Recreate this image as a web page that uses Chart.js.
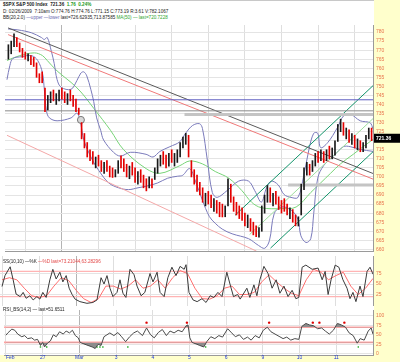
<!DOCTYPE html>
<html>
<head>
<meta charset="utf-8">
<script src="https://cdn.jsdelivr.net/npm/chart.js@4.4.1/dist/chart.umd.min.js"></script>
<style>
  html, body { margin: 0; padding: 0; width: 400px; height: 362px; overflow: hidden; background: #ffffcc; font-family: "Liberation Sans", Arial, sans-serif; }
  #frame { position: absolute; left: 0; top: 0; width: 374px; height: 355px; background: #fff; border-top: 1px solid #c8c8c8; box-sizing: border-box; }
  canvas { position: absolute; left: 0; }
  .t { position: absolute; left: 3px; font-size: 4.6px; line-height: 5px; white-space: nowrap; color: #222; }
</style>
</head>
<body>
<div id="frame"></div>
<div class="t" style="top:1.5px"><b>$SPX S&amp;P 500 Index</b> &nbsp;<b>721.36</b> &nbsp;<b style="color:#1a9a1a">1.76 &nbsp;0.24%</b></div>
<div class="t" style="top:9px">D: 02/26/2009 &nbsp;7:10am O:774.76 H:774.76 L:771.15 C:773.19 R:3.61 V:782.1067</div>
<div class="t" style="top:14.5px">BB(20,2.0) <span style="color:#6a6ab0">—upper —lower</span> last=726.62935,713.87585 <span style="color:#2fa52f">MA(50) — last=720.7228</span></div>
<canvas id="cMain" width="400" height="236" style="top:20px"></canvas>
<canvas id="cStoch" width="400" height="50" style="top:256px"></canvas>
<canvas id="cRsi" width="400" height="56" style="top:306px"></canvas>
<div class="t" style="top:259px">SS(10,10) —%K <span style="color:#e24848">—%D last=73.21044,63.28296</span></div>
<div class="t" style="top:307px">RSI_BS(14,2) — last=51.6511</div>
<script>
// trading days on the x axis (x = day number, one unit per session)
const dayLabels = ['Feb', '27', 'Mar', '3', '4', '5', '6', '9', '10', '11'];
const dayStarts = [0, 1, 2, 3, 4, 5, 6, 7, 8, 9];
const barsPerDay = 13;

// half-hour bars
const priceHigh = [
  773, 775, 779, 777, 774, 771, 769, 768, 767, 766, 763, 757, 758,
  749, 745, 747, 748, 746, 748, 749, 747, 746, 748, 745, 743, 738,
  730, 724, 719, 715, 714, 711, 712, 709, 708, 709, 706, 705, 704,
  709, 711.7, 710, 707, 706, 708, 705, 703, 704, 701, 699, 700, 699,
  705, 710, 712, 714, 712, 713, 715, 713, 715, 719, 722, 724.1, 723,
  709, 704, 701, 697, 694, 691, 692, 690, 688, 687, 686, 685, 684,
  699, 696, 689, 686, 684, 683, 680, 679, 677, 675, 673, 672, 684,
  690, 695.3, 694, 691, 692, 689, 687, 688, 685, 683, 682, 679, 678,
  696, 705, 708, 707, 709, 713, 714, 715, 714, 715, 717, 716, 720,
  729, 731.9, 730, 727, 726, 724, 723, 721, 720, 719, 723, 727, 727
];
const priceLow = [
  765, 768, 772, 772, 769, 766, 765, 764, 762, 761, 755, 752, 752,
  736, 737, 741, 742, 740, 742, 743, 741, 740, 742, 739, 736, 734.5,
  721, 716, 711, 709, 707, 705, 706, 703, 702, 703, 700, 699.7, 700,
  702, 705, 703, 700, 699, 701, 697, 696, 697, 694, 692.3, 694, 694,
  698.6, 702, 706, 707, 705, 706, 708, 706, 708, 711, 716, 718, 711,
  700, 696, 692, 690, 686, 684, 685, 683, 681, 680, 678, 677.9, 678,
  684, 686, 681, 679, 677, 676, 673, 672, 670, 668, 667, 666.8, 670,
  680, 686, 686, 684, 685, 682, 680, 681, 679, 677, 675, 673, 672.9,
  679, 693, 701, 701, 703, 706, 708, 709, 708, 709, 710, 710, 712,
  719.6, 725, 723, 721, 719, 718, 716, 715, 713.9, 714, 716, 721, 720
];
const priceClose = [
  770, 774, 777, 773, 770, 767, 766, 767, 763, 762, 756, 754, 753,
  738, 743, 745, 743, 744, 746, 745, 742, 744, 743, 741, 737, 735,
  722, 717, 713, 711, 708, 709, 707, 705, 706, 704, 702, 701, 701,
  707, 706, 704, 702, 704, 702, 699, 701, 698, 695, 694, 697, 696,
  703, 708, 710, 709, 707, 711, 709, 710, 713, 718, 720, 722, 713,
  701, 698, 694, 692, 688, 689, 687, 684, 685, 682, 681, 680, 682.6,
  695, 688, 683, 681, 680, 677, 675, 676, 672, 670, 669, 671, 683,
  688, 692, 688, 689, 686, 684, 683, 682, 680, 681, 677, 675, 676.5,
  694, 703, 705, 703, 707, 711, 710, 713, 710, 714, 712, 715, 719.6,
  727, 728, 724, 725, 721, 722, 718, 719, 715, 718, 722, 726, 721.36
];
const lastClose = 721.36;

// overlays as [day, value]
const bbUpper = [[0.03,781.7],[0.3,781.2],[0.67,779.6],[0.94,777],[1.02,775.9],[1.1,777],[1.21,769.6],[1.29,762.7],[1.37,753.7],[1.48,749.5],[1.75,748.4],[1.91,753.2],[2.02,757.4],[2.1,758],[2.18,755.8],[2.29,748.4],[2.37,741.6],[2.45,732.6],[2.56,725.7],[2.64,720.4],[2.91,713.6],[3.1,711.5],[3.37,713.6],[3.8,712.5],[3.99,711],[4.18,714.1],[4.45,716.7],[4.72,719.4],[4.88,724.1],[5.07,728.4],[5.26,729.4],[5.34,726.8],[5.47,709.9],[5.61,691.4],[5.74,688.7],[6.01,692.4],[6.33,697.7],[6.6,697.7],[6.77,692.4],[6.95,686.1],[7.09,694],[7.22,697.7],[7.41,695.6],[7.57,690.3],[7.76,688.7],[7.95,688.7],[8.11,700.9],[8.25,715.2],[8.38,724.1],[8.49,724.1],[8.57,716.2],[8.76,718.9],[9.03,727.3],[9.19,733.6],[9.38,734.7],[9.65,731],[9.92,729.9],[10,726.6]];
const bbLower = [[0,753.7],[0.08,761.6],[0.16,765.4],[0.4,766.4],[0.67,767],[0.84,764.3],[0.97,757.4],[1.02,748.4],[1.08,736.3],[1.16,732.6],[1.37,731],[1.75,732.6],[1.91,735.2],[2.0,731],[2.1,720.4],[2.32,709.9],[2.51,703.5],[2.78,696.7],[3.05,694],[3.32,693],[3.58,694],[3.85,695.1],[4.12,696.7],[4.39,699.3],[4.66,700.4],[4.8,700.9],[4.99,704.6],[5.15,697.7],[5.34,687.1],[5.53,678.1],[5.69,674.4],[5.88,671.2],[6.15,668.6],[6.6,665.9],[6.87,662.2],[7.04,660.6],[7.17,664.8],[7.3,679.7],[7.49,683.4],[7.76,681.8],[7.95,676.5],[8.03,667.5],[8.17,663.8],[8.3,665.9],[8.38,679.7],[8.49,699.3],[8.65,706.2],[8.92,711.5],[9.19,716.7],[9.38,716.7],[9.65,715.2],[10,714.1]];
const ma50 = [[0,764.3],[0.35,767],[0.75,768.5],[0.97,767],[1.1,764.3],[1.37,758.5],[1.75,752.2],[2.02,746.9],[2.37,737.9],[2.83,725.7],[3.18,715.2],[3.8,704.6],[4.18,702],[4.72,706.2],[4.99,708.8],[5.34,707.2],[5.69,703],[6.06,699.3],[6.42,692.4],[6.68,686.1],[6.95,683],[7.49,682.5],[7.9,683.4],[8.3,691.4],[8.57,696.7],[8.84,702],[9.11,707.2],[9.46,712.5],[9.73,716.7],[10,720.7]];

const downTrendDark = [[0.03,782.3],[10,701.9]];
const downTrendRed = [[0.03,778.6],[10,698.8]];
const lowerTrendPink = [[0,723],[6.82,659]];
const channelUpper = [[6.23,678.8],[10,750.4]];
const channelMid = [[6.63,668.2],[10,732.2]];
const channelLower = [[7.2,660.7],[10,713.9]];
const levelBlue = 742.6;
const levelGray = 736.5;
const levelThickTop = [[4.85,734.5],[10,734.5]];
const levelThickLow = [[7.68,695.5],[10,695.5]];
const gapMark = [[2.02,731.5]];
const priceTicks = [660,665,670,675,680,685,690,695,700,705,710,715,720,725,730,735,740,745,750,755,760,765,770,775,780];

// slow stochastic
const stochK = [[0,44],[0.08,70],[0.22,91],[0.3,60],[0.38,26],[0.49,20],[0.57,30],[0.65,16],[0.75,22],[0.84,12],[0.94,20],[1.02,14],[1.1,30],[1.19,18],[1.29,60],[1.37,85],[1.46,62],[1.56,78],[1.64,55],[1.73,70],[1.81,40],[1.89,25],[1.97,14],[2.1,8],[2.29,4],[2.45,6],[2.56,12],[2.67,65],[2.75,50],[2.83,70],[2.91,40],[2.99,20],[3.1,30],[3.18,60],[3.26,28],[3.34,18],[3.45,85],[3.56,72],[3.64,45],[3.75,22],[3.85,30],[3.99,75],[4.07,55],[4.18,78],[4.26,30],[4.37,20],[4.47,65],[4.58,90],[4.69,70],[4.8,92],[4.91,85],[4.96,96],[5.04,30],[5.15,12],[5.26,8],[5.39,15],[5.5,6],[5.61,22],[5.71,18],[5.82,30],[5.93,20],[6.06,78],[6.16,45],[6.24,20],[6.35,25],[6.42,14],[6.6,40],[6.68,18],[6.79,48],[6.87,22],[6.95,60],[7.06,92],[7.17,75],[7.28,40],[7.39,60],[7.49,28],[7.6,45],[7.71,20],[7.82,35],[7.92,15],[8.0,18],[8.09,90],[8.19,95],[8.36,85],[8.52,88],[8.63,60],[8.71,80],[8.79,25],[8.87,60],[8.98,95],[9.08,90],[9.19,60],[9.3,40],[9.38,15],[9.46,30],[9.54,8],[9.65,45],[9.73,20],[9.84,80],[9.92,90],[10,73.21]];
const stochD = [[0,60],[0.2,65],[0.4,60],[0.6,40],[0.8,22],[1.0,18],[1.2,22],[1.4,45],[1.6,65],[1.8,58],[2.0,35],[2.2,15],[2.4,6],[2.6,15],[2.8,45],[3.0,45],[3.2,38],[3.4,45],[3.6,60],[3.8,40],[4.0,45],[4.2,60],[4.4,40],[4.6,65],[4.8,82],[5.0,75],[5.2,40],[5.4,15],[5.6,14],[5.8,22],[6.0,40],[6.2,45],[6.4,25],[6.6,25],[6.8,30],[7.0,55],[7.2,72],[7.4,55],[7.6,40],[7.8,28],[8.0,22],[8.2,60],[8.4,85],[8.6,78],[8.8,60],[9.0,70],[9.2,78],[9.4,45],[9.6,25],[9.8,40],[10,63.28]];
const stochTicks = [25, 50, 75];
const stochBands = [80, 20];

// RSI
const rsi = [[0,49],[0.05,55],[0.16,65],[0.24,62],[0.32,52],[0.43,45],[0.51,48],[0.59,40],[0.7,42],[0.78,36],[0.86,38],[0.94,22],[1.0,30],[1.05,18],[1.13,28],[1.21,34],[1.29,50],[1.37,45],[1.46,58],[1.56,52],[1.64,60],[1.73,55],[1.81,62],[1.89,48],[1.97,42],[2.02,30],[2.18,24],[2.35,18],[2.43,14],[2.51,25],[2.59,22],[2.67,45],[2.75,50],[2.83,55],[2.94,48],[3.05,56],[3.15,45],[3.26,32],[3.37,45],[3.48,55],[3.58,60],[3.72,48],[3.83,68],[3.94,50],[4.04,42],[4.15,56],[4.26,64],[4.37,48],[4.47,60],[4.58,55],[4.69,62],[4.8,58],[4.91,74],[4.96,76],[5.01,42],[5.07,30],[5.18,26],[5.28,22],[5.39,18],[5.47,32],[5.58,45],[5.69,40],[5.8,48],[5.9,44],[6.04,66],[6.15,55],[6.25,45],[6.36,50],[6.47,38],[6.58,44],[6.68,36],[6.79,48],[6.9,42],[7.01,62],[7.12,70],[7.22,58],[7.33,52],[7.44,46],[7.55,40],[7.65,44],[7.76,36],[7.87,40],[7.98,38],[8.06,72],[8.17,80],[8.27,76],[8.38,74],[8.49,66],[8.6,68],[8.7,60],[8.81,52],[8.92,62],[9.03,80],[9.14,76],[9.25,70],[9.35,55],[9.46,48],[9.57,28],[9.65,40],[9.76,36],[9.87,60],[9.95,68],[10,51.65]];
const rsiTicks = [0, 25, 50, 75, 100];
const rsiBands = [70, 30];
const rsiHighMarks = [3.83, 4.93, 7.17, 8.36, 8.54, 9.22];
const rsiLowMarks = [0.94, 1.11, 2.48, 2.56, 2.64, 3.32, 5.44, 9.6];
const markHighLevel = 82;
const markLowLevel = 18;

const X_MIN = -0.054;
const X_MAX = 10;
const AXIS_W = 27;
const LABEL_FONT = { family: '"Liberation Sans", Arial, sans-serif', size: 5 };

const pts = arr => arr.map(([x, y]) => ({ x, y }));
const flat = v => [{ x: X_MIN, y: v }, { x: X_MAX, y: v }];

function line(data, color, width, extra) {
  return Object.assign({
    type: 'line', data, borderColor: color, borderWidth: width,
    pointRadius: 0, tension: 0, fill: false, order: 2
  }, extra || {});
}

function xScale(showLabels) {
  return {
    type: 'linear', min: X_MIN, max: X_MAX, offset: false,
    afterBuildTicks: s => { s.ticks = [...dayStarts, X_MAX].map(v => ({ value: v })); },
    afterFit: s => { s.height = showLabels ? 7 : 0; s.paddingLeft = 0; s.paddingRight = 0; },
    grid: { color: c => (c.index === 2 ? '#b4b4b4' : '#dedede'), drawTicks: false },
    border: { color: '#9a9a9a' },
    ticks: {
      display: showLabels, autoSkip: false, maxRotation: 0, padding: 0, align: 'inner',
      color: '#1f3ad8', font: LABEL_FONT,
      callback: (v, i) => dayLabels[i] ?? ''
    }
  };
}

function yScale(min, max, ticks) {
  return {
    type: 'linear', position: 'right', min, max,
    afterBuildTicks: s => { s.ticks = ticks.map(v => ({ value: v })); },
    afterFit: s => { s.width = AXIS_W; s.paddingTop = 0; s.paddingBottom = 0; },
    grid: { color: '#e4e4e4', drawTicks: false },
    border: { color: '#9a9a9a' },
    ticks: { color: '#e8744c', font: LABEL_FONT, padding: 3, autoSkip: false }
  };
}

function baseOptions(showX, yMin, yMax, ticks) {
  return {
    responsive: false, animation: false, devicePixelRatio: 1, events: [],
    layout: { padding: 0 },
    plugins: { legend: { display: false }, tooltip: { enabled: false } },
    scales: { x: xScale(showX), y: yScale(yMin, yMax, ticks) }
  };
}

const lastTag = {
  id: 'lastTag',
  afterDraw(chart) {
    const { ctx, chartArea } = chart;
    const py = chart.scales.y.getPixelForValue(lastClose);
    ctx.save();
    ctx.fillStyle = '#000';
    ctx.fillRect(chartArea.right + 1, py - 4.5, AXIS_W, 9);
    ctx.fillStyle = '#fff';
    ctx.font = 'bold 5px "Liberation Sans", Arial, sans-serif';
    ctx.textBaseline = 'middle';
    ctx.fillText(lastClose.toFixed(2), chartArea.right + 3, py);
    ctx.restore();
  }
};

// main price panel
const barData = priceHigh.map((h, k) => ({
  x: Math.floor(k / barsPerDay) + ((k % barsPerDay) + 0.5) / barsPerDay,
  y: [priceLow[k], h]
}));
const barColors = priceClose.map((c, k) => (k > 0 && c < priceClose[k - 1] ? '#e40000' : '#1a1a1a'));

new Chart(document.getElementById('cMain'), {
  type: 'line',
  data: {
    datasets: [
      { type: 'bar', data: barData, backgroundColor: barColors, barThickness: 1, borderWidth: 0, order: 0 },
      line(flat(levelBlue), '#5c5cc0', 1),
      line(flat(levelGray), '#8a8a8a', 1),
      line(pts(levelThickTop), '#c4c4c4', 3),
      line(pts(levelThickLow), '#c4c4c4', 3),
      line(pts(downTrendDark), '#5a5a5a', 1),
      line(pts(downTrendRed), '#f07878', 1),
      line(pts(lowerTrendPink), '#f4a8a8', 1),
      line(pts(channelUpper), '#12946a', 1),
      line(pts(channelLower), '#12946a', 1),
      line(pts(channelMid), '#9ede9e', 1),
      line(pts(bbUpper), '#7a7abb', 1, { tension: 0.35 }),
      line(pts(bbLower), '#7a7abb', 1, { tension: 0.35 }),
      line(pts(ma50), '#77d477', 1, { tension: 0.35 }),
      { type: 'scatter', data: pts(gapMark), pointStyle: 'circle', pointRadius: 3.5,
        backgroundColor: '#d8d8d8', borderColor: '#777', borderWidth: 1, order: 1 }
    ]
  },
  options: baseOptions(false, 659.1, 783.9, priceTicks),
  plugins: [lastTag]
});

// stochastic panel
new Chart(document.getElementById('cStoch'), {
  type: 'line',
  data: {
    datasets: [
      line(pts(stochK), '#3a3a3a', 1, { order: 0 }),
      line(pts(stochD), '#ff6e6e', 1, { order: 1 }),
      ...stochBands.map(v => line(flat(v), '#ffb4b4', 1.4, { order: 3 }))
    ]
  },
  options: baseOptions(false, -2.4, 116.7, stochTicks)
});

// RSI panel
new Chart(document.getElementById('cRsi'), {
  type: 'line',
  data: {
    datasets: [
      line(pts(rsi), '#4a4a4a', 1, { order: 0,
        fill: { target: { value: rsiBands[0] }, above: '#8c8c8c', below: 'rgba(0,0,0,0)' } }),
      line(pts(rsi), 'rgba(0,0,0,0)', 0, { order: 1,
        fill: { target: { value: rsiBands[1] }, above: 'rgba(0,0,0,0)', below: '#8c8c8c' } }),
      ...rsiBands.map(v => line(flat(v), '#ffa4a4', 1.6, { order: 3 })),
      { type: 'scatter', data: rsiHighMarks.map(x => ({ x, y: markHighLevel })), pointRadius: 1.2,
        backgroundColor: '#e00000', borderWidth: 0, order: 0 },
      { type: 'scatter', data: rsiLowMarks.map(x => ({ x, y: markLowLevel })), pointStyle: 'rect', pointRadius: 1,
        backgroundColor: '#22aa22', borderWidth: 0, order: 0 }
    ]
  },
  options: baseOptions(true, -3.1, 115.3, rsiTicks)
});
</script>
</body>
</html>
